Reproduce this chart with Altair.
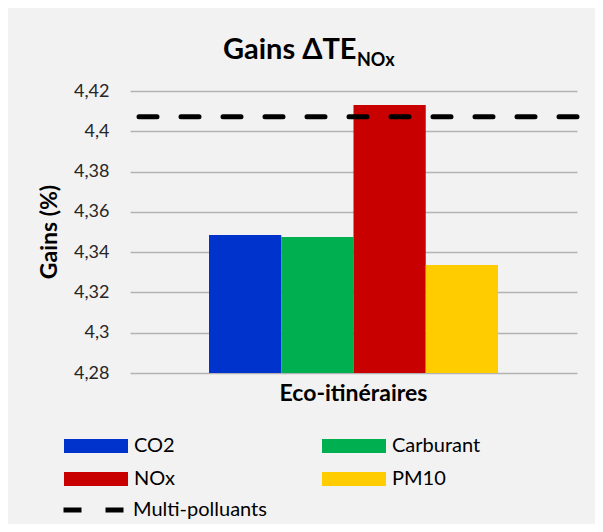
import altair as alt
import pandas as pd

# ---- data ----
category = "Eco-itinéraires"
pollutants = ["CO2", "Carburant", "NOx", "PM10"]
gains = [4.3485, 4.3475, 4.4130, 4.3336]
colors = ["#0033CC", "#00AF50", "#C80000", "#FFCC00"]
legend_order = ["CO2", "NOx", "Carburant", "PM10"]
legend_colors = ["#0033CC", "#C80000", "#00AF50", "#FFCC00"]
multi_label = ["Multi-polluants"]
multi_value = [4.4072]
y_ticks = [4.28, 4.30, 4.32, 4.34, 4.36, 4.38, 4.40, 4.42]
title_main = ["Gains ΔTE"]
title_sub = ["NOx"]
y_title = ["Gains (%)"]

bars_df = pd.DataFrame({"cat": [category] * len(pollutants), "pol": pollutants, "gain": gains})
rule_df = pd.DataFrame({"serie": multi_label, "val": multi_value})
main_df = pd.DataFrame({"t": title_main})
sub_df = pd.DataFrame({"t": title_sub})
ytitle_df = pd.DataFrame({"t": y_title})

FONT = "Lato"

bars = alt.Chart(bars_df).mark_bar(clip=True).encode(
    x=alt.X("cat:N", title=None,
            scale=alt.Scale(paddingInner=0, paddingOuter=0.2734),
            axis=alt.Axis(labelFontWeight="bold", labelFontSize=23, labelColor="black",
                          labelAngle=0, ticks=False, domain=False, labelPadding=9,
                          grid=False, labelFont=FONT, labelLimit=400)),
    xOffset=alt.XOffset("pol:N", sort=pollutants, scale=alt.Scale(paddingInner=0, paddingOuter=0)),
    y=alt.Y("gain:Q", title=None,
            scale=alt.Scale(domain=[4.28, 4.42], zero=False, nice=False),
            axis=alt.Axis(values=y_ticks,
                          labelExpr="replace(format(datum.value, '.2~f'), '.', ',')")),
    color=alt.Color("pol:N",
                    scale=alt.Scale(domain=legend_order, range=legend_colors),
                    legend=alt.Legend(title=None, orient="none", legendX=-50, legendY=339,
                                      columns=2, columnPadding=147, rowPadding=7,
                                      symbolType="M-2,-0.44L2,-0.44L2,0.44L-2,0.44Z",
                                      symbolSize=1024, symbolStrokeWidth=0, symbolOpacity=1,
                                      labelFontSize=20, labelFont=FONT, labelColor="black",
                                      labelOffset=22)),
)

rule = alt.Chart(rule_df).mark_rule(strokeWidth=5, strokeCap="round", color="black").encode(
    y=alt.Y("val:Q", title=None),
    strokeDash=alt.StrokeDash("serie:N",
                              scale=alt.Scale(domain=multi_label, range=[[18, 24]]),
                              legend=alt.Legend(title=None, orient="none", legendX=-69, legendY=386,
                                                symbolType="stroke", symbolSize=3721,
                                                symbolStrokeWidth=5, symbolStrokeColor="black",
                                                labelFontSize=20, labelFont=FONT, labelColor="black",
                                                labelOffset=6)),
)

main_title = alt.Chart(main_df).mark_text(align="left", baseline="alphabetic", fontSize=29,
                                          fontWeight="bold", font=FONT, color="black").encode(
    text="t:N", x=alt.value(93), y=alt.value(-32))

sub = alt.Chart(sub_df).mark_text(align="left", baseline="alphabetic", fontSize=18,
                                  fontWeight="bold", font=FONT, color="black").encode(
    text="t:N", x=alt.value(227), y=alt.value(-25))

ytitle = alt.Chart(ytitle_df).mark_text(align="center", baseline="middle", fontSize=23, angle=270,
                                        fontWeight="bold", font=FONT, color="black").encode(
    text="t:N", x=alt.value(-80), y=alt.value(141))

chart = alt.layer(bars, rule, main_title, sub, ytitle).properties(
    width=447, height=282,
    autosize=alt.AutoSizeParams(type="none"),
    padding={"left": 122, "top": 83, "right": 18, "bottom": 151},
    background="#F2F2F2",
).configure_view(stroke=None).configure_axisY(
    labelFontSize=18, labelColor="#262626", labelFont=FONT,
    labelPadding=21, ticks=False, domain=False, gridColor="#B3B3B3", gridWidth=1.3,
)

chart.save("out.html", embed_options={"renderer": "svg", "actions": False})
